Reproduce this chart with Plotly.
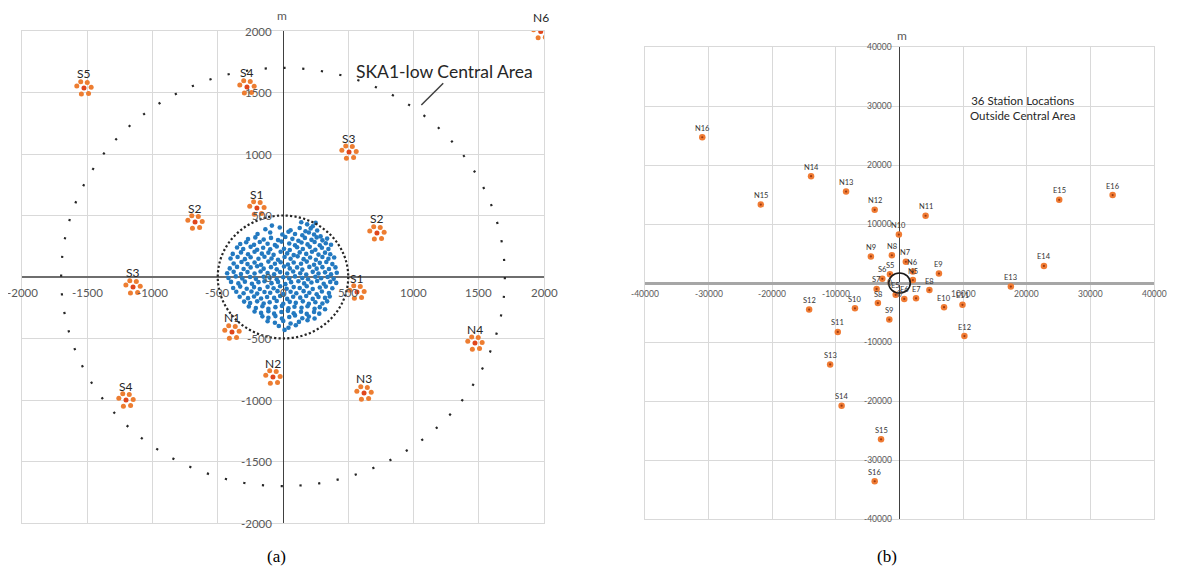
import math
import plotly.graph_objects as go

# ---------------- DATA ----------------
# Panel (a): SKA1-low central area (metres)
station_labels_a = ["S5", "S4", "S3", "S1", "S2", "S2", "S3", "S1",
                    "N1", "N2", "S4", "N3", "N4", "N6"]
station_x_a = [-1525, -276, 506, -200, -674, 720, -1149, 567,
               -391, -77, -1203, 621, 1471, 1975]
station_y_a = [1537, 1545, 1016, 561, 447, 358, -81, -122,
               -447, -813, -1000, -943, -537, 1995]
# offsets of the antenna sub-stations around each cluster centre (metres)
sub_dx = [-55, -25, 25, 55, 35, -20]
sub_dy = [15, 50, 45, 5, -45, -50]

# core stations (blue)
blue_x = [
    -85, 140, 185, 228, 250,
    -135, -25, 58, 128, 172, 212, 262,
    -195, -98, -5, 42, 92, 148, 198, 238, 288,
    -268, -212, -148, -92, -38, 18, 72, 118, 168, 218, 258, 302, 338,
    -328, -282, -222, -178, -118, -62, -12, 48, 92, 142, 188, 242, 282, 328, 368,
    -352, -305, -248, -198, -152, -98, -48, 8, 52, 108, 152, 205, 248, 298, 348,
    -385, -322, -268, -218, -162, -112, -72, -18, 32, 82, 128, 178, 222, 272, 322, 362,
    -402, -348, -292, -248, -188, -142, -88, -38, 12, 58, 112, 158, 208, 252, 302, 348, 392,
    -378, -318, -272, -218, -168, -112, -62, -18, 38, 82, 138, 182, 238, 282, 332, 378,
    -408, -352, -302, -248, -198, -148, -92, -48, 8, 52, 108, 148, 202, 258, 302, 352, 402,
    -428, -378, -322, -272, -218, -172, -118, -68, -22, 32, 78, 132, 178, 228, 272, 322, 368, 412,
    -418, -362, -312, -252, -208, -148, -102, -48, 2, 48, 92, 148, 192, 248, 292, 342, 388,
    -398, -342, -292, -238, -188, -142, -88, -38, 18, 62, 118, 162, 218, 262, 312, 362, 408,
    -382, -328, -278, -222, -178, -118, -72, -22, 28, 82, 128, 182, 228, 282, 328, 378,
    -358, -302, -242, -198, -142, -98, -42, 2, 58, 102, 158, 202, 258, 298, 352,
    -332, -268, -222, -168, -122, -68, -22, 32, 78, 132, 178, 228, 272, 322, 358,
    -298, -252, -198, -148, -102, -48, 2, 52, 98, 152, 198, 248, 302, 338,
    -262, -208, -158, -112, -58, -8, 42, 88, 142, 188, 242, 282, 322,
    -218, -168, -112, -68, -12, 38, 82, 138, 182, 238, 278,
    -158, -112, -58, -8, 48, 92, 148, 198, 242,
    -118, -62, 2, 58, 122, 188,
    -32, 42, 98,
    12,
]
blue_y = [
    418, 445, 428, 412, 440,
    388, 402, 380, 398, 372, 395, 378,
    350, 362, 345, 368, 350, 340, 362, 345, 330,
    308, 322, 305, 318, 300, 325, 310, 295, 318, 302, 322, 298, 312,
    268, 282, 262, 285, 270, 260, 288, 272, 258, 280, 265, 285, 258, 275, 262,
    240, 228, 245, 222, 238, 226, 248, 230, 220, 242, 228, 245, 222, 238, 228,
    188, 200, 185, 205, 190, 198, 180, 205, 192, 178, 200, 188, 205, 182, 198, 185,
    150, 162, 145, 160, 148, 165, 150, 140, 162, 148, 168, 145, 158, 140, 162, 148, 158,
    110, 122, 105, 118, 100, 125, 108, 120, 102, 118, 108, 125, 100, 115, 122, 105,
    70, 82, 65, 78, 88, 68, 80, 62, 85, 70, 78, 60, 82, 68, 80, 65, 78,
    30, 42, 25, 40, 28, 45, 32, 22, 40, 28, 45, 30, 20, 42, 28, 38, 22, 35,
    -8, 5, -12, 0, -15, 2, -5, -18, -2, -12, 5, -8, -18, 2, -10, 0, -15,
    -40, -52, -38, -55, -42, -35, -50, -40, -58, -42, -35, -52, -45, -32, -55, -40, -48,
    -90, -78, -95, -82, -98, -80, -92, -75, -95, -82, -90, -75, -98, -85, -78, -92,
    -120, -132, -118, -135, -122, -128, -115, -138, -120, -132, -115, -128, -140, -118, -130,
    -160, -172, -158, -175, -162, -170, -155, -178, -160, -168, -155, -178, -162, -170, -158,
    -200, -212, -198, -215, -205, -195, -218, -202, -210, -198, -218, -205, -215, -198,
    -240, -252, -238, -258, -245, -235, -255, -242, -250, -238, -258, -245, -262,
    -280, -292, -278, -298, -285, -275, -295, -282, -300, -285, -298,
    -320, -332, -318, -338, -325, -312, -335, -322, -338,
    -360, -372, -358, -378, -365, -352,
    -398, -412, -392,
    -430,
]
ticks_a = [-2000, -1500, -1000, -500, 0, 500, 1000, 1500, 2000]

# Panel (b): 36 stations outside the central area (metres)
far_labels = ["N5", "N6", "N7", "N8", "N9", "N10", "N11", "N12", "N13", "N14", "N15", "N16",
              "E5", "E6", "E7", "E8", "E9", "E10", "E11", "E12", "E13", "E14", "E15", "E16",
              "S5", "S6", "S7", "S8", "S9", "S10", "S11", "S12", "S13", "S14", "S15", "S16"]
far_x = [2100, 2100, 1000, -1200, -4500, -100, 4100, -3900, -8400, -13900, -21800, -31000,
         -600, 750, 2600, 4700, 6200, 7000, 9900, 10200, 17500, 22700, 25100, 33500,
         -1500, -2700, -3600, -3400, -1600, -7000, -9700, -14200, -10900, -9100, -2900, -3900]
far_y = [500, 1950, 3600, 4700, 4500, 8200, 11400, 12400, 15500, 18100, 13300, 24700,
         -2000, -2700, -2600, -1200, 1600, -4100, -3700, -9000, -600, 2900, 14100, 14900,
         1500, 700, -1000, -3400, -6200, -4300, -8300, -4500, -13800, -20800, -26500, -33600]
ticks_b = [-40000, -30000, -20000, -10000, 0, 10000, 20000, 30000, 40000]

central_radius = 500
area_radius = 1700

# ---------------- LAYOUT HELPERS ----------------
SW, SH = 1181, 573          # browser window
OFF = 8                      # page body margin
W, H = SW - OFF, SH - OFF    # figure size that fits the window
A_LEFT, A_RIGHT, A_TOP, A_BOTTOM = 22, 544, 31, 523
B_LEFT, B_RIGHT, B_TOP, B_BOTTOM = 645, 1154, 47, 519

def px(x):
    return (x - OFF) / W

def py(y):
    return 1 - (y - OFF) / H

def dom_x(a, b):
    return [px(a), px(b)]

def dom_y(top, bottom):
    return [py(bottom), py(top)]

FONT = "Lato, 'Open Sans', sans-serif"
GRID = "#D9D9D9"
ORANGE = "#ED7D31"
RED = "#E0461C"
BLUE = "#2379C0"

fig = go.Figure()

# ---- panel (a) traces
fig.add_trace(go.Scatter(x=blue_x, y=blue_y, mode="markers",
                         marker=dict(size=4.6, color=BLUE), xaxis="x", yaxis="y",
                         hoverinfo="skip", showlegend=False))
clu_x = [sx + dx for sx in station_x_a for dx in sub_dx]
clu_y = [sy + dy for sy in station_y_a for dy in sub_dy]
fig.add_trace(go.Scatter(x=clu_x, y=clu_y, mode="markers",
                         marker=dict(size=5, color=ORANGE), xaxis="x", yaxis="y",
                         hoverinfo="skip", showlegend=False))
fig.add_trace(go.Scatter(x=station_x_a, y=station_y_a, mode="markers",
                         marker=dict(size=5, color=RED), xaxis="x", yaxis="y",
                         hoverinfo="skip", showlegend=False))

# ---- panel (b) traces
fig.add_trace(go.Scatter(x=far_x, y=far_y, mode="markers",
                         marker=dict(size=6.5, color="#F07B33"), xaxis="x2", yaxis="y2",
                         hoverinfo="skip", showlegend=False))
fig.add_trace(go.Scatter(x=far_x, y=far_y, mode="markers",
                         marker=dict(size=2.2, color="#9C3A12"), xaxis="x2", yaxis="y2",
                         hoverinfo="skip", showlegend=False))

# ---- dotted circles (panel a): dash pattern tuned to dot spacing
def ellipse_perimeter(rx, ry):
    h = ((rx - ry) / (rx + ry)) ** 2
    return math.pi * (rx + ry) * (1 + 3 * h / (10 + math.sqrt(4 - 3 * h)))

sx_a = (A_RIGHT - A_LEFT) / 4000.0
sy_a = (A_BOTTOM - A_TOP) / 4000.0
per_outer = ellipse_perimeter(area_radius * sx_a, area_radius * sy_a) / 72.0
per_inner = ellipse_perimeter(central_radius * sx_a, central_radius * sy_a) / 90.0

shapes = [
    dict(type="circle", xref="x", yref="y", x0=-area_radius, y0=-area_radius,
         x1=area_radius, y1=area_radius,
         line=dict(color="#262626", width=2.2, dash=f"2.2px,{per_outer - 2.2:.3f}px")),
    dict(type="circle", xref="x", yref="y", x0=-central_radius, y0=-central_radius,
         x1=central_radius, y1=central_radius,
         line=dict(color="#262626", width=2.2, dash=f"2.2px,{per_inner - 2.2:.3f}px")),
    dict(type="line", xref="x", yref="y", x0=1228, y0=1575, x1=1060, y1=1398,
         line=dict(color="#404040", width=1.5)),
    dict(type="circle", xref="x2", yref="y2", x0=-area_radius, y0=-area_radius,
         x1=area_radius, y1=area_radius, line=dict(color="#1a1a1a", width=1.6)),
]

ann = []
# tick labels panel (a)
for v in ticks_a:
    ann.append(dict(x=v, y=0, xref="x", yref="y", text=str(v), showarrow=False,
                    yshift=-15, font=dict(family=FONT, size=11.5, color="#595959")))
    ann.append(dict(x=0, y=v, xref="x", yref="y", text=str(v), showarrow=False,
                    xanchor="right", xshift=-9, font=dict(family=FONT, size=11.5, color="#595959")))
# tick labels panel (b)
for v in ticks_b:
    ann.append(dict(x=v, y=0, xref="x2", yref="y2", text=str(v), showarrow=False,
                    yshift=-11, font=dict(family=FONT, size=8.5, color="#595959")))
    ann.append(dict(x=0, y=v, xref="x2", yref="y2", text=str(v), showarrow=False,
                    xanchor="right", xshift=-6, font=dict(family=FONT, size=8.5, color="#595959")))
# cluster labels (a)
for lab, x, y in zip(station_labels_a, station_x_a, station_y_a):
    ann.append(dict(x=x, y=y, xref="x", yref="y", text=lab, showarrow=False,
                    yshift=14, font=dict(family=FONT, size=12, color="#262626")))
# station labels (b)
for lab, x, y in zip(far_labels, far_x, far_y):
    ann.append(dict(x=x, y=y, xref="x2", yref="y2", text=lab, showarrow=False,
                    yshift=9, font=dict(family=FONT, size=7.5, color="#333333")))
# titles / notes
ann.append(dict(x=1234, y=1667, xref="x", yref="y", text="SKA1-low Central Area",
                showarrow=False, font=dict(family=FONT, size=17.5, color="#262626")))
ann.append(dict(x=19400, y=29700, xref="x2", yref="y2",
                text="36 Station Locations<br>Outside Central Area",
                showarrow=False, font=dict(family=FONT, size=11.5, color="#262626")))

def paper_text(x, y, text, size, family=FONT, color="#595959", xanchor="center"):
    return dict(x=px(x), y=py(y), xref="paper", yref="paper", text=text,
                showarrow=False, xanchor=xanchor, yanchor="middle",
                font=dict(family=family, size=size, color=color))

# axis unit labels
ann.append(paper_text(282, 15, "m", 12))
ann.append(paper_text(902, 36, "m", 12))
ann.append(paper_text(1175, 295, "m", 13, xanchor="left"))
# captions
ann.append(paper_text(276, 556, "(a)", 17, family="Liberation Serif, serif", color="#000000"))
ann.append(paper_text(887, 556, "(b)", 17, family="Liberation Serif, serif", color="#000000"))

def axis(domain, rng, dtick, zcolor, zwidth, anchor):
    return dict(domain=domain, range=rng, dtick=dtick, tick0=0, showgrid=True,
                gridcolor=GRID, gridwidth=1, zeroline=True, zerolinecolor=zcolor,
                zerolinewidth=zwidth, showticklabels=False, ticks="", showline=True,
                mirror=True, linecolor=GRID, linewidth=1, anchor=anchor, fixedrange=True)

fig.update_layout(
    width=W, height=H,
    margin=dict(l=0, r=0, t=0, b=0),
    paper_bgcolor="white", plot_bgcolor="white",
    xaxis=axis(dom_x(A_LEFT, A_RIGHT), [-2000, 2000], 500, "#404040", 1.2, "y"),
    yaxis=axis(dom_y(A_TOP, A_BOTTOM), [-2000, 2000], 500, "#6E6E6E", 1.6, "x"),
    xaxis2=axis(dom_x(B_LEFT, B_RIGHT), [-40000, 40000], 10000, "#404040", 1.2, "y2"),
    yaxis2=axis(dom_y(B_TOP, B_BOTTOM), [-40000, 40000], 10000, "#A6A6A6", 2.5, "x2"),
    shapes=shapes,
    annotations=ann,
    showlegend=False,
)

fig.write_html("out.html")
